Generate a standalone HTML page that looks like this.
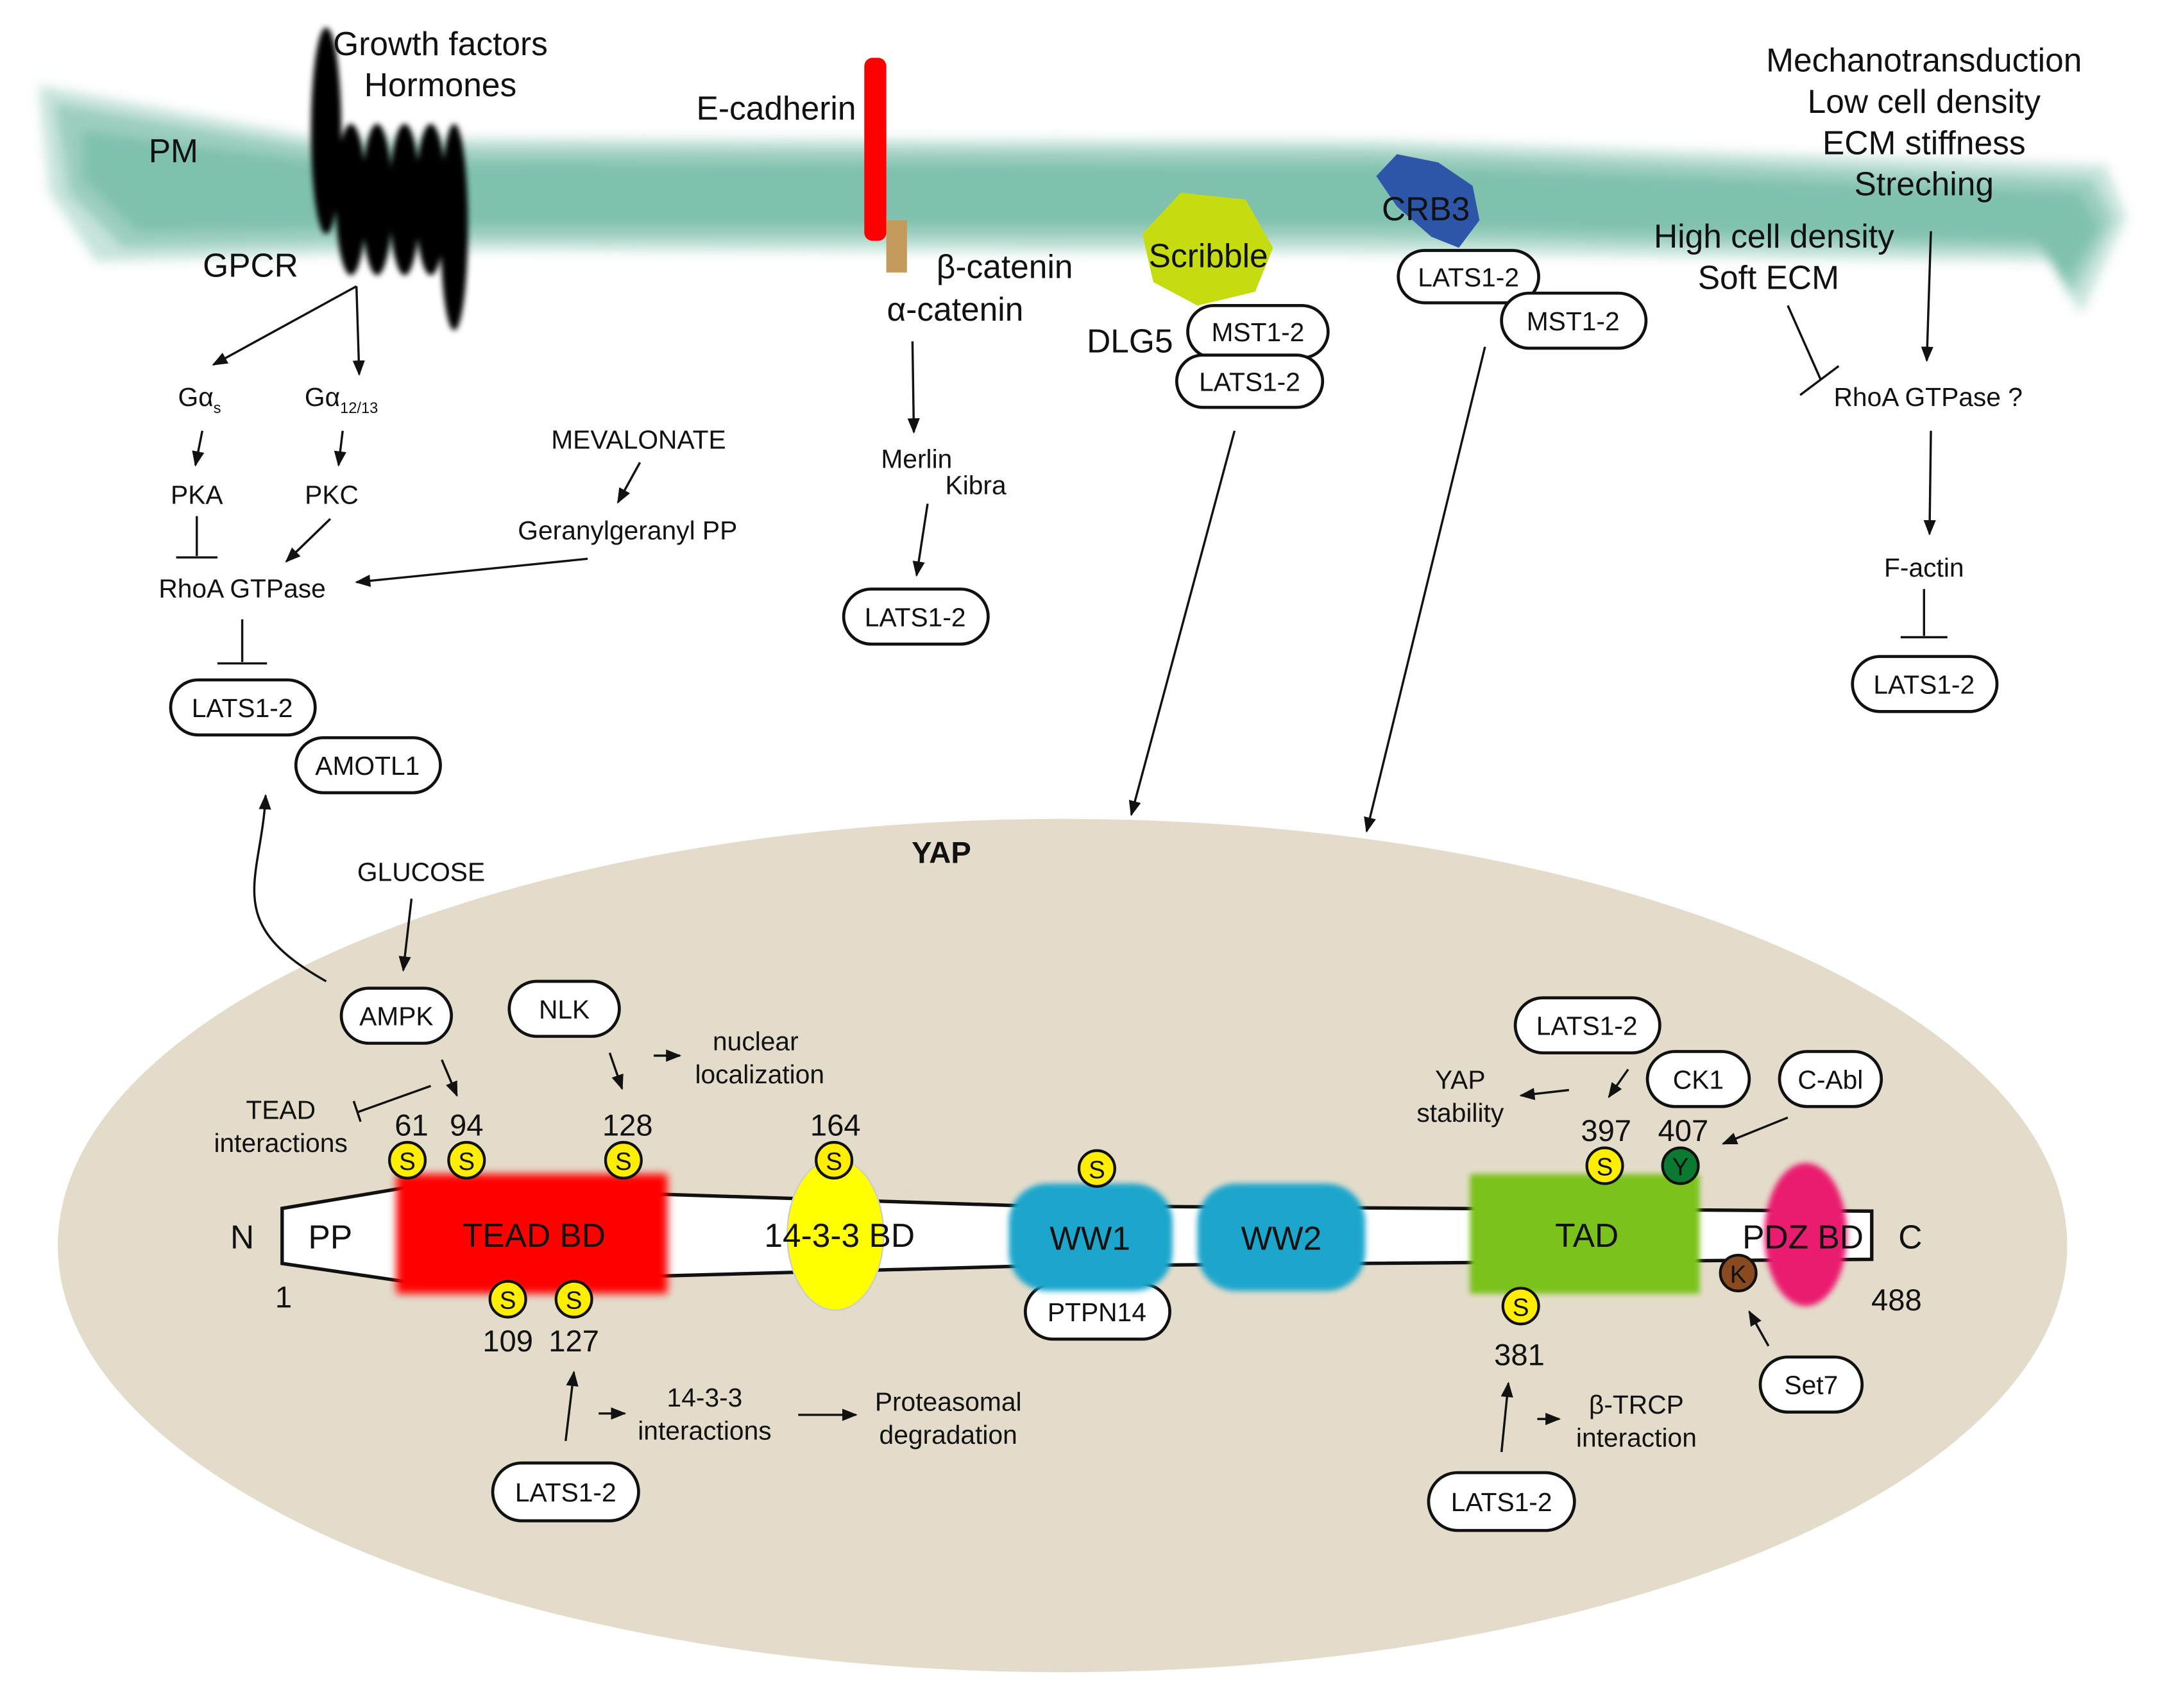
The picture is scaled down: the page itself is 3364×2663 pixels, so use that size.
<!DOCTYPE html>
<html><head><meta charset="utf-8"><style>
html,body{margin:0;padding:0;background:#fff}
svg{display:block}
text{font-family:"Liberation Sans",sans-serif;fill:#111}
</style></head><body>
<svg width="3364" height="2663" viewBox="0 0 1568 1241" preserveAspectRatio="none" xmlns="http://www.w3.org/2000/svg">
<defs>
<marker id="a" viewBox="0 0 10 10" refX="9" refY="5" markerWidth="7" markerHeight="7" orient="auto-start-reverse"><path d="M0,1 L10,5 L0,9 z" fill="#111"/></marker>
<filter id="b1" x="-20%" y="-20%" width="140%" height="140%"><feGaussianBlur stdDeviation="3"/></filter>
<filter id="b2" x="-50%" y="-20%" width="200%" height="140%"><feGaussianBlur stdDeviation="2"/></filter>
<filter id="b3" x="-10%" y="-30%" width="120%" height="160%"><feGaussianBlur stdDeviation="4"/></filter>
</defs>
<!-- membrane -->
<g fill="#4aa58c" filter="url(#b3)">
<path opacity="0.3" d="M28,62 L230,100 L1000,102 L1530,120 L1545,158 L1512,228 L1490,190 L1000,184 L340,182 L70,190 L36,140 Z"/>
<path opacity="0.35" d="M40,75 L230,108 L1000,110 L1520,130 L1535,160 L1505,215 L1485,182 L1000,174 L340,174 L90,180 L50,140 Z"/>
<path opacity="0.35" d="M60,95 L230,118 L1000,120 L1510,140 L1525,165 L1500,205 L1480,175 L1000,164 L340,164 L100,168 L60,130 Z"/>
</g>
<!-- GPCR -->
<g fill="#000" filter="url(#b2)">
<ellipse cx="237" cy="95" rx="11" ry="75"/>
<ellipse cx="255" cy="145" rx="11" ry="55"/>
<ellipse cx="274" cy="145" rx="11" ry="55"/>
<ellipse cx="294" cy="145" rx="11" ry="55"/>
<ellipse cx="313" cy="145" rx="11" ry="55"/>
<ellipse cx="330" cy="165" rx="10" ry="75"/>
</g>
<!-- E-cadherin -->
<rect x="628" y="42" width="16" height="133" rx="6" fill="#f00"/>
<rect x="644" y="160" width="15" height="38" fill="#c49a5c"/>
<!-- Scribble -->
<polygon points="858,140 905,145 925,180 912,212 870,222 838,205 830,170" fill="#c5dd10"/>
<!-- CRB3 -->
<path d="M1000,128 L1015,112 L1045,118 L1070,135 L1075,160 L1060,180 L1040,172 L1015,150 Z" fill="#2d55a8"/>
<!-- nucleus -->
<ellipse cx="772" cy="905" rx="730" ry="310" fill="#e4dccb"/>

<!-- top labels -->
<g font-size="24" text-anchor="middle">
<text x="320" y="40">Growth factors</text>
<text x="320" y="70">Hormones</text>
<text x="108" y="118" text-anchor="start" x1="0">PM</text>
<text x="182" y="201">GPCR</text>
<text x="564" y="87">E-cadherin</text>
<text x="730" y="202">β-catenin</text>
<text x="694" y="233">α-catenin</text>
<text x="878" y="194">Scribble</text>
<text x="1036" y="160">CRB3</text>
<text x="821" y="256">DLG5</text>
<text x="1398" y="52">Mechanotransduction</text>
<text x="1398" y="82">Low cell density</text>
<text x="1398" y="112">ECM stiffness</text>
<text x="1398" y="142">Streching</text>
<text x="1289" y="180">High cell density</text>
<text x="1285" y="210">Soft ECM</text>
</g>
<g font-size="19" text-anchor="middle">
<text x="145" y="295">Gα<tspan font-size="11" dy="5">s</tspan></text>
<text x="248" y="295">Gα<tspan font-size="11" dy="5">12/13</tspan></text>
<text x="143" y="366">PKA</text>
<text x="241" y="366">PKC</text>
<text x="464" y="326">MEVALONATE</text>
<text x="456" y="392">Geranylgeranyl PP</text>
<text x="176" y="434">RhoA GTPase</text>
<text x="666" y="340">Merlin</text>
<text x="709" y="359">Kibra</text>
<text x="1401" y="295">RhoA GTPase ?</text>
<text x="1398" y="419">F-actin</text>
<text x="306" y="640">GLUCOSE</text>
<text x="549" y="763">nuclear</text>
<text x="552" y="787">localization</text>
<text x="204" y="813">TEAD</text>
<text x="204" y="837">interactions</text>
<text x="1061" y="791">YAP</text>
<text x="1061" y="815">stability</text>
<text x="512" y="1022">14-3-3</text>
<text x="512" y="1046">interactions</text>
<text x="689" y="1025">Proteasomal</text>
<text x="689" y="1049">degradation</text>
<text x="1189" y="1027">β-TRCP</text>
<text x="1189" y="1051">interaction</text>
</g>
<text x="684" y="627" font-size="22" font-weight="bold" text-anchor="middle">YAP</text>

<!-- boxes -->
<g fill="#fff" stroke="#111" stroke-width="2.2">
<rect x="124" y="494" width="105" height="40" rx="20"/>
<rect x="215" y="536" width="105" height="40" rx="20"/>
<rect x="613" y="428" width="105" height="40" rx="20"/>
<rect x="863" y="222" width="102" height="38" rx="19"/>
<rect x="855" y="258" width="106" height="38" rx="19"/>
<rect x="1016" y="182" width="102" height="38" rx="19"/>
<rect x="1091" y="213" width="105" height="40" rx="20"/>
<rect x="1346" y="477" width="105" height="40" rx="20"/>
<rect x="248" y="718" width="80" height="40" rx="20"/>
<rect x="370" y="713" width="80" height="40" rx="20"/>
<rect x="745" y="933" width="105" height="40" rx="20"/>
<rect x="1101" y="725" width="105" height="40" rx="20"/>
<rect x="1197" y="764" width="74" height="40" rx="20"/>
<rect x="1293" y="764" width="74" height="40" rx="20"/>
<rect x="1279" y="986" width="74" height="40" rx="20"/>
<rect x="358" y="1063" width="106" height="42" rx="21"/>
<rect x="1038" y="1070" width="106" height="42" rx="21"/>
</g>
<g font-size="19" text-anchor="middle">
<text x="176" y="521">LATS1-2</text>
<text x="267" y="563">AMOTL1</text>
<text x="665" y="455">LATS1-2</text>
<text x="914" y="248">MST1-2</text>
<text x="908" y="284">LATS1-2</text>
<text x="1067" y="208">LATS1-2</text>
<text x="1143" y="240">MST1-2</text>
<text x="1398" y="504">LATS1-2</text>
<text x="288" y="745">AMPK</text>
<text x="410" y="740">NLK</text>
<text x="797" y="960">PTPN14</text>
<text x="1153" y="752">LATS1-2</text>
<text x="1234" y="791">CK1</text>
<text x="1330" y="791">C-Abl</text>
<text x="1316" y="1013">Set7</text>
<text x="411" y="1091">LATS1-2</text>
<text x="1091" y="1098">LATS1-2</text>
</g>

<!-- connectors -->
<g stroke="#111" stroke-width="1.6" fill="none">
<path d="M259,208 L155,265" marker-end="url(#a)"/>
<path d="M259,208 L261,272" marker-end="url(#a)"/>
<path d="M147,313 L142,338" marker-end="url(#a)"/>
<path d="M249,313 L246,338" marker-end="url(#a)"/>
<path d="M143,375 L143,404 M128,405 L158,405"/>
<path d="M240,377 L208,408" marker-end="url(#a)"/>
<path d="M465,336 L449,365" marker-end="url(#a)"/>
<path d="M427,406 L259,423" marker-end="url(#a)"/>
<path d="M176,450 L176,481 M158,482 L194,482"/>
<path d="M663,248 L664,314" marker-end="url(#a)"/>
<path d="M674,366 L666,418" marker-end="url(#a)"/>
<path d="M897,313 L822,592" marker-end="url(#a)"/>
<path d="M1079,252 L993,604" marker-end="url(#a)"/>
<path d="M1403,168 L1400,262" marker-end="url(#a)"/>
<path d="M1299,222 L1323,276 M1308,287 L1336,266"/>
<path d="M1403,313 L1402,388" marker-end="url(#a)"/>
<path d="M1398,428 L1398,462 M1381,463 L1415,463"/>
<path d="M237,713 C160,670 190,640 193,578" marker-end="url(#a)"/>
<path d="M299,653 L293,705" marker-end="url(#a)"/>
<path d="M321,770 L332,796" marker-end="url(#a)"/>
<path d="M313,789 L260,808 M257,800 L262,815"/>
<path d="M443,765 L452,791" marker-end="url(#a)"/>
<path d="M475,767 L494,767" marker-end="url(#a)"/>
<path d="M1183,777 L1169,797" marker-end="url(#a)"/>
<path d="M1140,792 L1105,796" marker-end="url(#a)"/>
<path d="M1299,812 L1252,831" marker-end="url(#a)"/>
<path d="M1285,978 L1271,953" marker-end="url(#a)"/>
<path d="M411,1047 L417,997" marker-end="url(#a)"/>
<path d="M435,1027 L454,1027" marker-end="url(#a)"/>
<path d="M580,1028 L622,1028" marker-end="url(#a)"/>
<path d="M1091,1055 L1096,1005" marker-end="url(#a)"/>
<path d="M1117,1031 L1133,1031" marker-end="url(#a)"/>
</g>

<!-- protein -->
<path d="M205,878 L300,862 L740,876 L1360,880 L1360,915 L740,920 L300,932 L205,918 Z" fill="#fff" stroke="#111" stroke-width="2.5"/>
<rect x="288" y="853" width="197" height="87" fill="#f00" filter="url(#b1)"/>
<ellipse cx="607" cy="897" rx="35" ry="55" fill="#ffff00" stroke="#ccc" stroke-width="1"/>
<rect x="733" y="860" width="119" height="78" rx="28" fill="#1ba6cc" filter="url(#b2)"/>
<rect x="870" y="860" width="122" height="78" rx="28" fill="#1ba6cc" filter="url(#b2)"/>
<rect x="1068" y="853" width="167" height="87" fill="#7cc21e" filter="url(#b2)"/>
<ellipse cx="1312" cy="897" rx="30" ry="52" fill="#ea1a70" filter="url(#b2)"/>
<g font-size="24" text-anchor="middle">
<text x="176" y="907">N</text>
<text x="240" y="907">PP</text>
<text x="388" y="906">TEAD BD</text>
<text x="610" y="906">14-3-3 BD</text>
<text x="792" y="908">WW1</text>
<text x="931" y="908">WW2</text>
<text x="1153" y="906">TAD</text>
<text x="1310" y="907">PDZ BD</text>
<text x="1388" y="907">C</text>
<text x="206" y="950" font-size="22">1</text>
<text x="1378" y="952" font-size="22">488</text>
<text x="299" y="825" font-size="22">61</text>
<text x="339" y="825" font-size="22">94</text>
<text x="456" y="825" font-size="22">128</text>
<text x="607" y="825" font-size="22">164</text>
<text x="369" y="982" font-size="22">109</text>
<text x="417" y="982" font-size="22">127</text>
<text x="1167" y="829" font-size="22">397</text>
<text x="1223" y="829" font-size="22">407</text>
<text x="1104" y="992" font-size="22">381</text>
</g>
<!-- S circles -->
<g stroke="#111" stroke-width="2" fill="#ffee00">
<circle cx="296" cy="843" r="13"/><circle cx="339" cy="843" r="13"/><circle cx="453" cy="843" r="13"/>
<circle cx="606" cy="843" r="13"/><circle cx="797" cy="849" r="13"/>
<circle cx="369" cy="944" r="13"/><circle cx="417" cy="944" r="13"/>
<circle cx="1166" cy="847" r="13"/><circle cx="1105" cy="949" r="13"/>
<circle cx="1221" cy="847" r="13" fill="#0a7a30"/>
<circle cx="1263" cy="925" r="13" fill="#8a4a20"/>
</g>
<g font-size="18" text-anchor="middle">
<text x="296" y="850">S</text><text x="339" y="850">S</text><text x="453" y="850">S</text>
<text x="606" y="850">S</text><text x="797" y="856">S</text>
<text x="369" y="951">S</text><text x="417" y="951">S</text>
<text x="1166" y="854">S</text><text x="1105" y="956">S</text>
<text x="1221" y="854">Y</text><text x="1263" y="932">K</text>
</g>
</svg>
</body></html>
